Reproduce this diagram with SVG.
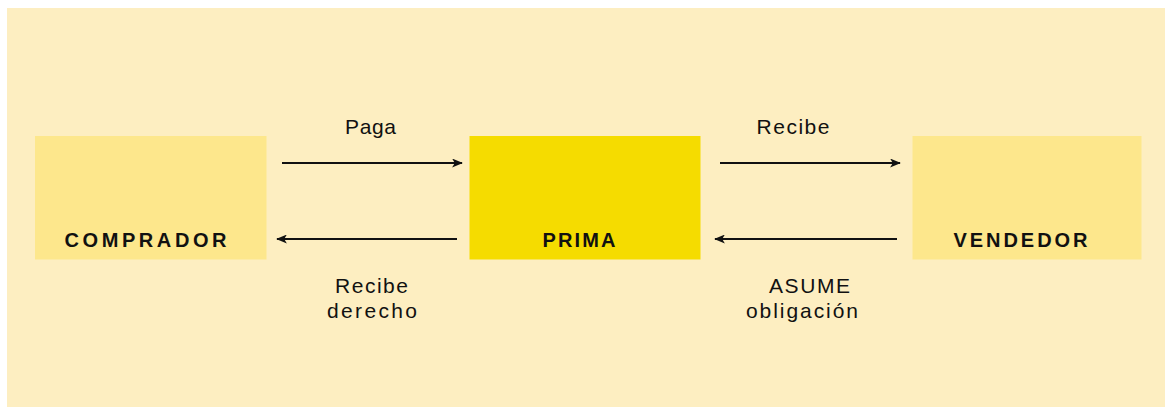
<svg xmlns="http://www.w3.org/2000/svg" width="1165" height="407" viewBox="0 0 1165 407">
<defs>
<style>
.bg{fill:#FDEEC1}
.light{fill:#FDE78C}
.prima{fill:#F5DC00}
.lbl{font-family:"Liberation Sans",Arial,sans-serif;font-size:21px;fill:#111;text-anchor:middle}
.nlbl{font-family:"Liberation Sans",Arial,sans-serif;font-size:20px;font-weight:bold;fill:#111;text-anchor:middle}
.conn{stroke:#111;stroke-width:2;fill:none}
</style>
<marker id="ah" viewBox="0 0 12 10" refX="11" refY="5" markerWidth="12" markerHeight="9" markerUnits="userSpaceOnUse" orient="auto">
<path d="M0,0 L12,5 L0,10 L3,5 Z" fill="#111"/>
</marker>
</defs>
<rect class="bg" x="7" y="8" width="1158" height="399"/>
<g id="comprador">
<rect class="light" x="35" y="136" width="231.5" height="123.5"/>
<text class="nlbl" x="145.5" y="247" textLength="162" lengthAdjust="spacing">COMPRADOR</text>
</g>
<g id="prima">
<rect class="prima" x="469.5" y="136" width="231" height="123.5"/>
<text class="nlbl" x="579" y="247" textLength="73" lengthAdjust="spacing">PRIMA</text>
</g>
<g id="vendedor">
<rect class="light" x="912.5" y="136" width="229" height="123.5"/>
<text class="nlbl" x="1020.5" y="247" textLength="134" lengthAdjust="spacing">VENDEDOR</text>
</g>
<g id="connectors">
<line class="conn" x1="282" y1="163" x2="462" y2="163" marker-end="url(#ah)"/>
<line class="conn" x1="457" y1="239" x2="277" y2="239" marker-end="url(#ah)"/>
<line class="conn" x1="720" y1="163" x2="900" y2="163" marker-end="url(#ah)"/>
<line class="conn" x1="897" y1="239" x2="715" y2="239" marker-end="url(#ah)"/>
<text class="lbl" x="370.5" y="134" textLength="51" lengthAdjust="spacing">Paga</text>
<text class="lbl" x="793" y="134" textLength="73" lengthAdjust="spacing">Recibe</text>
<text class="lbl" x="371.5" y="293" textLength="73" lengthAdjust="spacing">Recibe</text>
<text class="lbl" x="372" y="318" textLength="90" lengthAdjust="spacing">derecho</text>
<text class="lbl" x="809.5" y="293" textLength="81" lengthAdjust="spacing">ASUME</text>
<text class="lbl" x="802" y="318" textLength="112" lengthAdjust="spacing">obligación</text>
</g>
</svg>
